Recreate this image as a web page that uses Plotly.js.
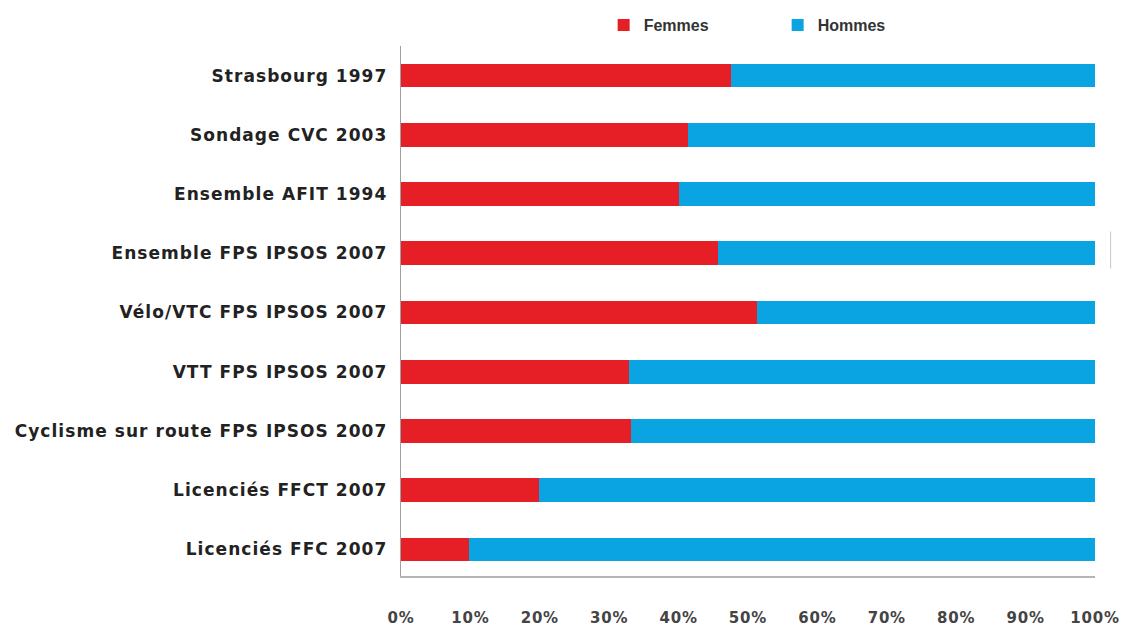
<!DOCTYPE html>
<html>
<head>
<meta charset="utf-8">
<script src="https://cdn.plot.ly/plotly-3.0.1.min.js"></script>
<style>
html,body{margin:0;padding:0;background:#fff;}
#chart{width:1128px;height:628px;}
.yaxislayer-above .ytick text{letter-spacing:1.05px;}
.xaxislayer-above .xtick text{letter-spacing:0.8px;}
</style>
</head>
<body>
<div id="chart"></div>
<script>
// Categories listed bottom to top
const categories = [
  "Licenciés FFC 2007",
  "Licenciés FFCT 2007",
  "Cyclisme sur route FPS IPSOS 2007",
  "VTT FPS IPSOS 2007",
  "Vélo/VTC FPS IPSOS 2007",
  "Ensemble FPS IPSOS 2007",
  "Ensemble AFIT 1994",
  "Sondage CVC 2003",
  "Strasbourg 1997"
];
const femmes = [9.8, 19.9, 33.1, 32.8, 51.3, 45.7, 40.0, 41.3, 47.5];
const hommes = femmes.map(v => +(100 - v).toFixed(1));
const xTickVals = [0,10,20,30,40,50,60,70,80,90,100];
const xTickText = ["0%","10%","20%","30%","40%","50%","60%","70%","80%","90%","100%"];

const traces = [
  {type:'bar', orientation:'h', name:'Femmes', y:categories, x:femmes,
   marker:{color:'#e61f26'}, width:0.4},
  {type:'bar', orientation:'h', name:'Hommes', y:categories, x:hommes,
   marker:{color:'#0aa4e2'}, width:0.4}
];

const layout = {
  width:1128, height:628,
  paper_bgcolor:'#ffffff', plot_bgcolor:'#ffffff',
  barmode:'stack',
  margin:{l:401, r:33, t:46, b:52},
  font:{family:'"DejaVu Sans", sans-serif', color:'#222'},
  showlegend:true,
  legend:{orientation:'h', x:0.292, xanchor:'left', xref:'paper',
          yref:'container', y:0.96, yanchor:'middle',
          font:{size:16, color:'#333', weight:'bold', family:'"Liberation Sans", sans-serif'},
          entrywidth:129, entrywidthmode:'pixels', itemwidth:30, traceorder:'normal'},
  xaxis:{range:[0,100], tickvals:xTickVals, ticktext:xTickText,
         showgrid:false, zeroline:false, showline:true, linecolor:'#b5b5b5', linewidth:1.5,
         ticks:'outside', ticklen:27, tickcolor:'rgba(0,0,0,0)',
         tickfont:{size:15, color:'#444', weight:'bold', family:'"DejaVu Sans", sans-serif'},
         fixedrange:true},
  yaxis:{type:'category', range:[-0.45, 8.5], showgrid:false, zeroline:false,
         showline:true, linecolor:'#a0a0a0', linewidth:1.2,
         ticks:'outside', ticklen:9, tickcolor:'rgba(0,0,0,0)',
         tickfont:{size:17, color:'#222', weight:'bold', family:'"DejaVu Sans", sans-serif'},
         fixedrange:true},
  shapes:[{type:'line', xref:'paper', yref:'paper', x0:1.0225, x1:1.0225, y0:0.58, y1:0.65,
           line:{color:'#c8c8c8', width:1}}]
};

Plotly.newPlot('chart', traces, layout, {displayModeBar:false, staticPlot:true});
</script>
</body>
</html>
